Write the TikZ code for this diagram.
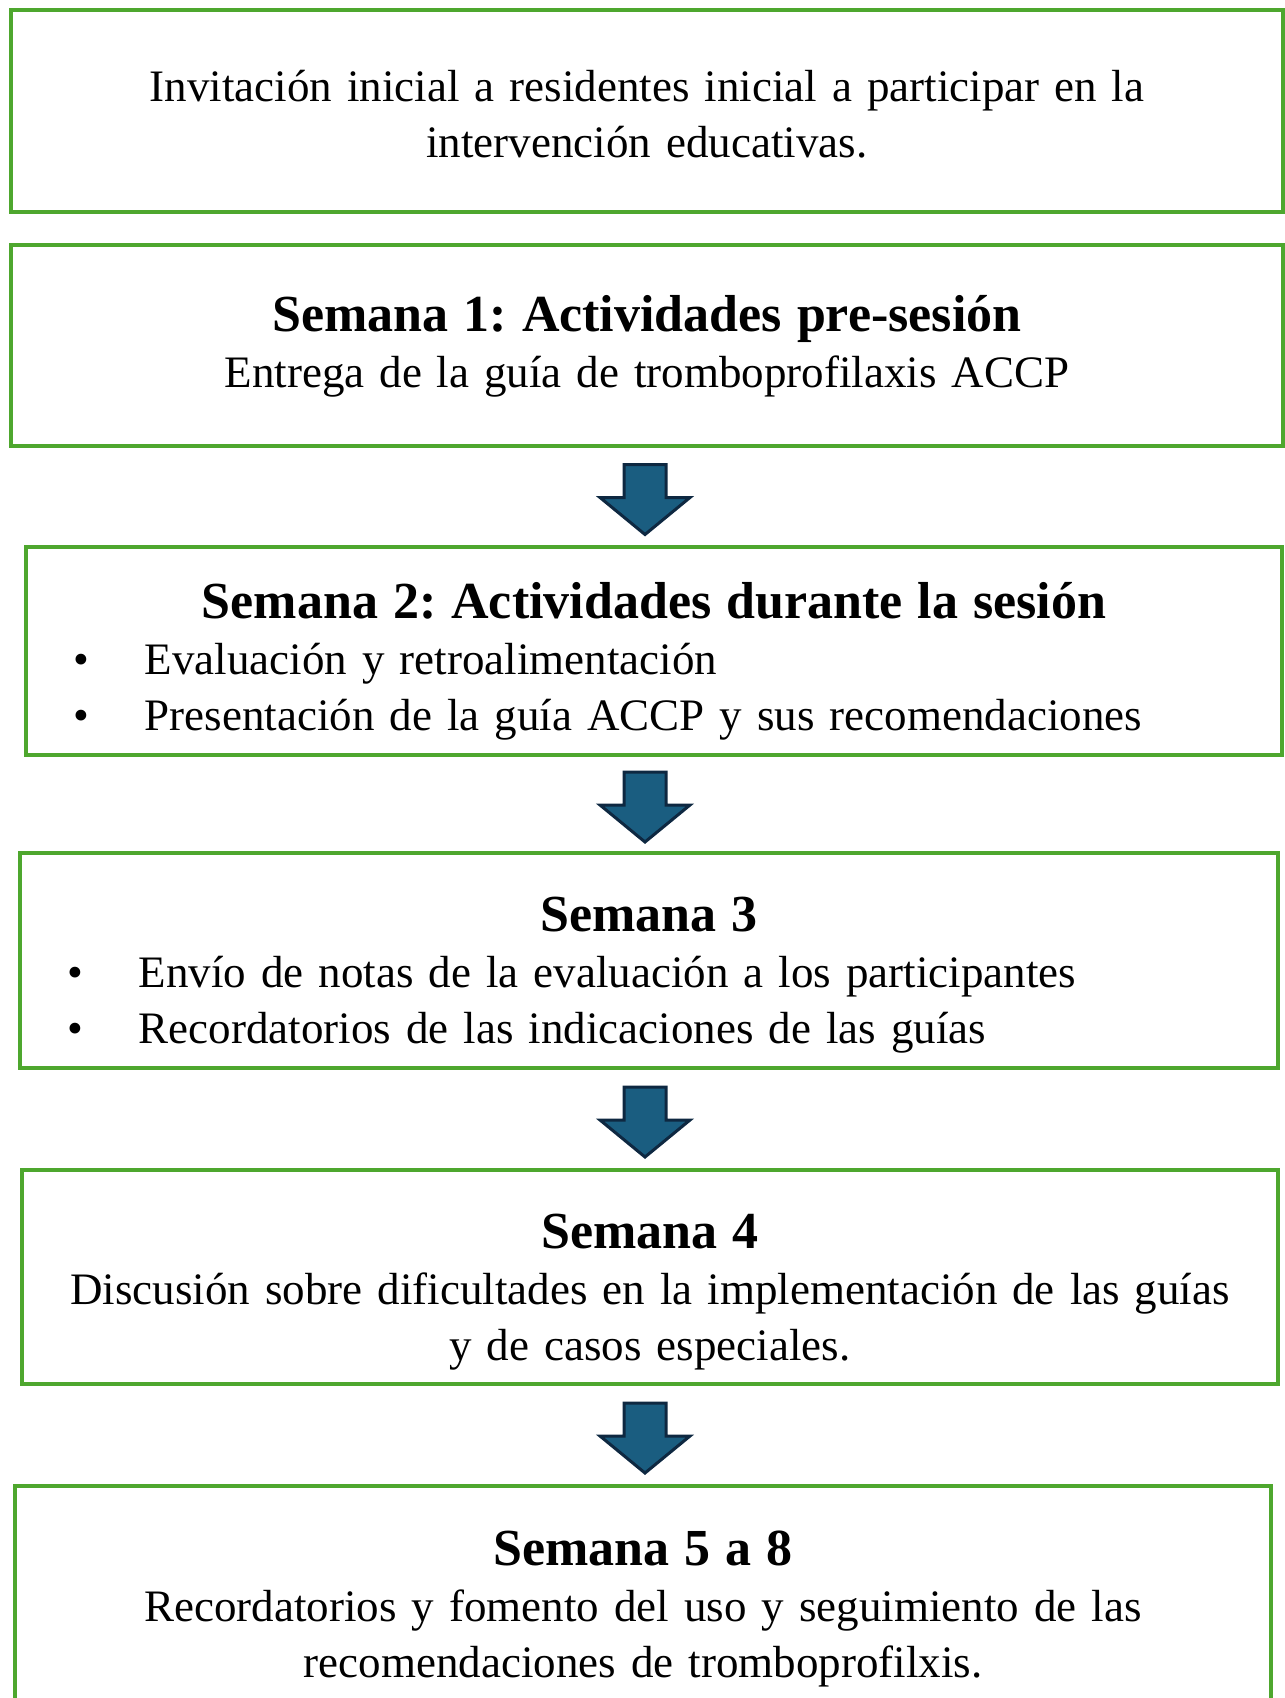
\documentclass[tikz,border=0pt]{standalone}
\usepackage{fontspec}
\setmainfont{Liberation Serif}
\usetikzlibrary{calc}
\frenchspacing

\definecolor{boxgreen}{HTML}{4EA72E}
\definecolor{arrowblue}{HTML}{1A5D80}
\definecolor{arrowline}{HTML}{0E2841}

\tikzstyle{box} = [draw=boxgreen,line width=2pt,inner sep=0pt]
\tikzstyle{txt} = [inner sep=0pt,align=center,font=\fontsize{22.5}{28}\selectfont]
\tikzstyle{blockarrow} = [fill=arrowblue,draw=arrowline,line width=1.5pt,line join=miter]

\newcommand{\head}[1]{{\fontsize{26}{28}\selectfont\bfseries #1}}
\newcommand{\bul}[1]{\makebox[\hsize][l]{\hspace*{23.5pt}\makebox[36pt][l]{\textbullet}#1}}

\begin{document}
\begin{tikzpicture}[x=0.5pt,y=-0.5pt]

\useasboundingbox (0,0) rectangle (1285,1698);

% boxes
\node [box,minimum width=636pt,minimum height=101pt] (b1) at (647,111) {};
\node [box,minimum width=636pt,minimum height=100.5pt] (b2) at (647,345.5) {};
\node [box,minimum width=628pt,minimum height=104pt] (b3) at (654,651) {};
\node [box,minimum width=629pt,minimum height=107.5pt] (b4) at (649,960.5) {};
\node [box,minimum width=628pt,minimum height=107pt] (b5) at (650,1277) {};
\node [box,minimum width=628pt,minimum height=122.5pt] (b6) at (643,1608.5) {};

% Invitation
\node [txt,text width=636pt] (t1) at ([yshift=-1.5pt]b1.center)
  {Invitación inicial a residentes inicial a participar en la\\intervención educativas.};

% Week 1
\node [txt,text width=636pt] (t2) at ([yshift=-0.5pt]b2.center)
  {\head{Semana 1: Actividades pre-sesión}\\Entrega de la guía de tromboprofilaxis ACCP};

% Week 2
\node [txt,text width=628pt] (t3) at ([yshift=-5pt]b3.center)
  {\head{Semana 2: Actividades durante la sesión}\\
   \bul{Evaluación y retroalimentación}\\
   \bul{Presentación de la guía ACCP y sus recomendaciones}};

% Week 3
\node [txt,text width=629pt] (t4) at ([yshift=-7.5pt]b4.center)
  {\head{Semana 3}\\
   \bul{Envío de notas de la evaluación a los participantes}\\
   \bul{Recordatorios de las indicaciones de las guías}};

% Week 4
\node [txt,text width=628pt] (t5) at ([yshift=-7.5pt]b5.center)
  {\head{Semana 4}\\Discusión sobre dificultades en la implementación de las guías\\y de casos especiales.};

% Weeks 5 to 8
\node [txt,text width=628pt] (t6) at (b6.center)
  {\head{Semana 5 a 8}\\Recordatorios y fomento del uso y seguimiento de las\\recomendaciones de tromboprofilxis.};

% block arrows
\foreach \a/\b in {b2/b3,b3/b4,b4/b5,b5/b6}{
  \coordinate (m) at ($(\a.south)!0.5!(\b.north)$);
  \draw [blockarrow] (645,0 |- m) ++(-21,-32) -- ++(42,0) -- ++(0,33) -- ++(24,0)
    -- ++(-45,37) -- ++(-45,-37) -- ++(24,0) -- cycle;
}

\end{tikzpicture}
\end{document}
